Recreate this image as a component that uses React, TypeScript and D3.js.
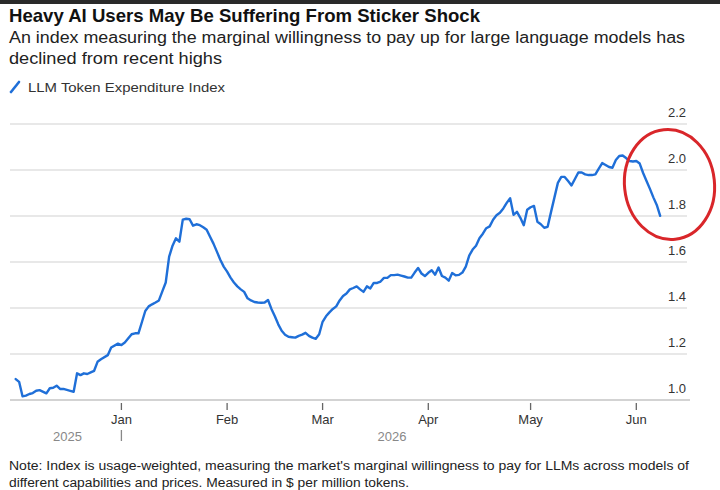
import React from 'react';
import * as d3 from 'd3';

// LLM Token Expenditure Index (Dec 2025 - Jun 2026)
const dates: string[] = [
  '2025-12-01', '2025-12-02', '2025-12-03', '2025-12-04', '2025-12-05', '2025-12-06', '2025-12-07', '2025-12-08',
  '2025-12-10', '2025-12-11', '2025-12-12', '2025-12-13', '2025-12-14', '2025-12-15', '2025-12-17', '2025-12-18',
  '2025-12-19', '2025-12-20', '2025-12-21', '2025-12-22', '2025-12-23', '2025-12-24', '2025-12-25', '2025-12-26',
  '2025-12-28', '2025-12-29', '2025-12-31', '2026-01-01', '2026-01-02', '2026-01-04', '2026-01-05', '2026-01-06',
  '2026-01-07', '2026-01-08', '2026-01-09', '2026-01-10', '2026-01-11', '2026-01-12', '2026-01-13', '2026-01-14',
  '2026-01-15', '2026-01-16', '2026-01-17', '2026-01-18', '2026-01-19', '2026-01-20', '2026-01-21', '2026-01-22',
  '2026-01-23', '2026-01-24', '2026-01-25', '2026-01-26', '2026-01-27', '2026-01-28', '2026-01-29', '2026-01-30',
  '2026-01-31', '2026-02-01', '2026-02-02', '2026-02-03', '2026-02-04', '2026-02-05', '2026-02-06', '2026-02-07',
  '2026-02-08', '2026-02-09', '2026-02-10', '2026-02-11', '2026-02-12', '2026-02-13', '2026-02-14', '2026-02-15',
  '2026-02-16', '2026-02-17', '2026-02-18', '2026-02-19', '2026-02-20', '2026-02-21', '2026-02-22', '2026-02-23',
  '2026-02-24', '2026-02-25', '2026-02-26', '2026-02-27', '2026-02-28', '2026-03-01', '2026-03-02', '2026-03-03',
  '2026-03-04', '2026-03-05', '2026-03-06', '2026-03-07', '2026-03-08', '2026-03-09', '2026-03-10', '2026-03-11',
  '2026-03-12', '2026-03-13', '2026-03-14', '2026-03-15', '2026-03-16', '2026-03-17', '2026-03-18', '2026-03-19',
  '2026-03-20', '2026-03-21', '2026-03-22', '2026-03-23', '2026-03-24', '2026-03-25', '2026-03-26', '2026-03-27',
  '2026-03-28', '2026-03-29', '2026-03-30', '2026-03-31', '2026-04-01', '2026-04-02', '2026-04-03', '2026-04-04',
  '2026-04-05', '2026-04-06', '2026-04-07', '2026-04-08', '2026-04-09', '2026-04-10', '2026-04-11', '2026-04-12',
  '2026-04-13', '2026-04-14', '2026-04-15', '2026-04-16', '2026-04-17', '2026-04-18', '2026-04-19', '2026-04-20',
  '2026-04-21', '2026-04-22', '2026-04-23', '2026-04-24', '2026-04-25', '2026-04-26', '2026-04-27', '2026-04-28',
  '2026-04-29', '2026-04-30', '2026-05-01', '2026-05-02', '2026-05-03', '2026-05-04', '2026-05-05', '2026-05-06',
  '2026-05-07', '2026-05-08', '2026-05-09', '2026-05-10', '2026-05-11', '2026-05-12', '2026-05-13', '2026-05-14',
  '2026-05-15', '2026-05-16', '2026-05-17', '2026-05-18', '2026-05-19', '2026-05-20', '2026-05-21', '2026-05-22',
  '2026-05-23', '2026-05-24', '2026-05-25', '2026-05-26', '2026-05-27', '2026-05-28', '2026-05-29', '2026-05-30',
  '2026-05-31', '2026-06-01', '2026-06-02', '2026-06-03', '2026-06-04', '2026-06-05', '2026-06-06', '2026-06-07',
  '2026-06-08',
];

const values: number[] = [
  1.091, 1.079, 1.016, 1.019, 1.026, 1.030, 1.040, 1.043,
  1.029, 1.051, 1.053, 1.062, 1.048, 1.048, 1.040, 1.036,
  1.116, 1.108, 1.116, 1.113, 1.120, 1.127, 1.166, 1.177,
  1.195, 1.228, 1.245, 1.239, 1.250, 1.286, 1.290, 1.290,
  1.338, 1.387, 1.407, 1.416, 1.424, 1.433, 1.472, 1.511,
  1.623, 1.671, 1.703, 1.688, 1.784, 1.788, 1.786, 1.758,
  1.764, 1.760, 1.751, 1.740, 1.710, 1.680, 1.645, 1.610,
  1.580, 1.558, 1.532, 1.511, 1.494, 1.481, 1.470, 1.442,
  1.433, 1.426, 1.424, 1.423, 1.424, 1.435, 1.396, 1.364,
  1.329, 1.301, 1.284, 1.275, 1.273, 1.271, 1.279, 1.284,
  1.292, 1.279, 1.271, 1.266, 1.286, 1.340, 1.364, 1.381,
  1.396, 1.407, 1.433, 1.452, 1.463, 1.481, 1.487, 1.494,
  1.481, 1.470, 1.494, 1.485, 1.509, 1.509, 1.515, 1.531,
  1.531, 1.543, 1.543, 1.545, 1.541, 1.537, 1.532, 1.532,
  1.554, 1.574, 1.550, 1.539, 1.553, 1.564, 1.545, 1.576,
  1.539, 1.532, 1.519, 1.552, 1.542, 1.544, 1.554, 1.580,
  1.628, 1.654, 1.671, 1.703, 1.723, 1.747, 1.755, 1.784,
  1.803, 1.814, 1.833, 1.857, 1.877, 1.805, 1.818, 1.792,
  1.760, 1.827, 1.838, 1.844, 1.775, 1.764, 1.749, 1.753,
  1.818, 1.881, 1.944, 1.970, 1.970, 1.952, 1.933, 1.961,
  1.989, 1.989, 1.981, 1.978, 1.978, 1.981, 2.006, 2.030,
  2.022, 2.013, 2.010, 2.043, 2.061, 2.063, 2.052, 2.039,
  2.037, 2.039, 2.028, 1.987, 1.952, 1.918, 1.881, 1.848,
  1.801,
];

const yTicks: number[] = [1.0, 1.2, 1.4, 1.6, 1.8, 2.0, 2.2];
const monthTicks: string[] = ['2026-01-01', '2026-02-01', '2026-03-01', '2026-04-01', '2026-05-01', '2026-06-01'];
const monthLabels: string[] = ['Jan', 'Feb', 'Mar', 'Apr', 'May', 'Jun'];

const title = 'Heavy AI Users May Be Suffering From Sticker Shock';
const subtitle = [
  'An index measuring the marginal willingness to pay up for large language models has',
  'declined from recent highs',
];
const legendLabel = 'LLM Token Expenditure Index';
const note = [
  "Note: Index is usage-weighted, measuring the market's marginal willingness to pay for LLMs across models of",
  'different capabilities and prices. Measured in $ per million tokens.',
];

const parse = d3.timeParse('%Y-%m-%d');
const font = '"Liberation Sans", Arial, sans-serif';
const blue = '#1f6fd8';

const App: React.FC = () => {
  const width = 720;
  const height = 490;

  const x = d3.scaleTime()
    .domain([parse('2025-12-01')!, parse('2026-06-01')!])
    .range([15.7, 636.3]);

  const y = d3.scaleLinear()
    .domain([1.0, 2.2])
    .range([400, 124]);

  const points = dates.map((d, i) => ({ date: parse(d)!, value: values[i] }));

  const line = d3.line<{ date: Date; value: number }>()
    .x(d => x(d.date))
    .y(d => y(d.value));

  const janX = x(parse('2026-01-01')!);

  return (
    <svg
      width={width}
      height={height}
      style={{ position: 'absolute', left: 0, top: 0, background: 'white', fontFamily: font }}
    >
      <rect x={0} y={0} width={width} height={height} fill="white" />
      <rect x={0} y={0} width={width} height={4} fill="#2a2a2a" />

      {/* header */}
      <text x={9} y={22} fontSize={18.5} fontWeight="bold" fill="#111" textLength={471} lengthAdjust="spacingAndGlyphs">
        {title}
      </text>
      {subtitle.map((s, i) => (
        <text key={i} x={9} y={43 + i * 21} fontSize={16} fill="#222"
          textLength={i === 0 ? 676 : 213} lengthAdjust="spacingAndGlyphs">
          {s}
        </text>
      ))}

      {/* legend */}
      <line x1={11} y1={92} x2={19} y2={82} stroke={blue} strokeWidth={2.6} strokeLinecap="round" />
      <text x={28} y={92} fontSize={13} fill="#333" textLength={197} lengthAdjust="spacingAndGlyphs">
        {legendLabel}
      </text>

      {/* grid + y labels */}
      {yTicks.slice(1).map(t => (
        <line key={t} x1={10} x2={687} y1={y(t)} y2={y(t)} stroke="#e0e0e0" strokeWidth={1.5} />
      ))}
      {yTicks.map(t => (
        <text key={t} x={686} y={y(t) - 7} fontSize={13} fill="#333" textAnchor="end">
          {t.toFixed(1)}
        </text>
      ))}

      {/* x axis */}
      <line x1={10} x2={690} y1={y(1.0)} y2={y(1.0)} stroke="#c4c4c4" strokeWidth={1.5} />
      {monthTicks.map((m, i) => {
        const mx = x(parse(m)!);
        return (
          <g key={m}>
            <line x1={mx} x2={mx} y1={403} y2={410} stroke="#666" strokeWidth={1.3} />
            <text x={mx} y={424} fontSize={13} fill="#333" textAnchor="middle">{monthLabels[i]}</text>
          </g>
        );
      })}
      <text x={(x.range()[0] + janX) / 2 - 1} y={441} fontSize={13} fill="#888" textAnchor="middle">2025</text>
      <line x1={janX} x2={janX} y1={430} y2={441} stroke="#888" strokeWidth={1.3} />
      <text x={392} y={441} fontSize={13} fill="#888" textAnchor="middle">2026</text>

      {/* series */}
      <path d={line(points) ?? ''} fill="none" stroke={blue} strokeWidth={2.4} strokeLinejoin="round" strokeLinecap="round" />

      {/* red annotation circle */}
      <ellipse cx={669.5} cy={184.5} rx={45} ry={55} fill="none" stroke="#d9262a" strokeWidth={3}
        transform="rotate(-6 669.5 184.5)" />

      {/* note */}
      {note.map((s, i) => (
        <text key={i} x={9} y={470 + i * 17} fontSize={12.5} fill="#222"
          textLength={i === 0 ? 680 : 400} lengthAdjust="spacingAndGlyphs">
          {s}
        </text>
      ))}
    </svg>
  );
};

export default App;
